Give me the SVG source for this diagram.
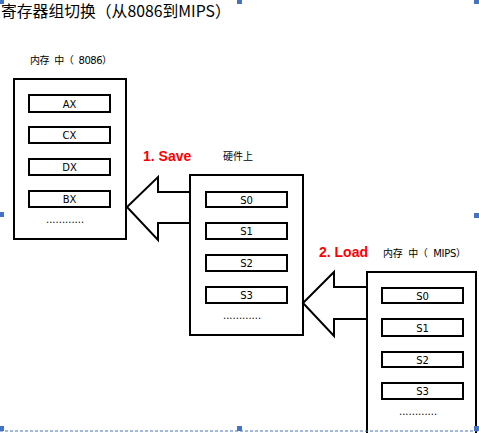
<svg xmlns="http://www.w3.org/2000/svg" width="479" height="433" viewBox="0 0 479 433">
<style>
.box{fill:#fff;stroke:#000;stroke-width:2}
.reg{fill:#fff;stroke:#000;stroke-width:2}
.rt{font-family:"DejaVu Sans","Noto Sans",sans-serif;font-size:10px;fill:#000;text-anchor:middle}
.lbl{font-family:"DejaVu Sans","Noto Sans CJK SC",sans-serif;font-size:10px;fill:#000;white-space:pre}
.red{font-family:"Liberation Sans",Arial,sans-serif;font-size:14px;font-weight:bold;fill:#ff0000}
.dots{font-family:"DejaVu Sans",sans-serif;font-size:10px;fill:#000}
.arrow{fill:#fff;stroke:#000;stroke-width:2;stroke-linejoin:miter}
.h{fill:#4472c4}
</style>
<rect width="479" height="433" fill="#fff"/>
<text x="1" y="17" font-family="'Noto Sans CJK SC',sans-serif" font-size="15.8" fill="#000">寄存器组切换（从8086到MIPS）</text>

<g id="mem8086">
<text class="lbl" x="30" y="64" textLength="82" lengthAdjust="spacing" xml:space="preserve">内存  中（  8086）</text>
<rect class="box" x="14" y="79" width="112" height="160"/>
<rect class="reg" x="29" y="95" width="81" height="17"/><text class="rt" x="69.5" y="107.5">AX</text>
<rect class="reg" x="29" y="127" width="81" height="16"/><text class="rt" x="69.5" y="139">CX</text>
<rect class="reg" x="29" y="159" width="81" height="16"/><text class="rt" x="69.5" y="171">DX</text>
<rect class="reg" x="29" y="191" width="81" height="16"/><text class="rt" x="69.5" y="203">BX</text>
<text class="dots" x="46" y="223">............</text>
</g>

<g id="hardware">
<text class="lbl" x="223" y="160">硬件上</text>
<rect class="box" x="190" y="175" width="113" height="160"/>
<rect class="reg" x="206" y="192" width="81" height="15"/><text class="rt" x="246.5" y="203.5">S0</text>
<rect class="reg" x="206" y="223" width="81" height="16"/><text class="rt" x="246.5" y="235">S1</text>
<rect class="reg" x="206" y="255" width="81" height="16"/><text class="rt" x="246.5" y="267">S2</text>
<rect class="reg" x="206" y="287" width="81" height="16"/><text class="rt" x="246.5" y="299">S3</text>
<text class="dots" x="223" y="319">............</text>
</g>

<g id="memMIPS">
<text class="lbl" x="383" y="257" textLength="83" lengthAdjust="spacing" xml:space="preserve">内存  中（  MIPS）</text>
<rect class="box" x="367" y="272" width="109" height="170"/>
<rect class="reg" x="382" y="288" width="81" height="15"/><text class="rt" x="422.5" y="299.5">S0</text>
<rect class="reg" x="382" y="319" width="81" height="17"/><text class="rt" x="422.5" y="331.5">S1</text>
<rect class="reg" x="382" y="352" width="81" height="15"/><text class="rt" x="422.5" y="363.5">S2</text>
<rect class="reg" x="382" y="383" width="81" height="16"/><text class="rt" x="422.5" y="395">S3</text>
<text class="dots" x="399" y="415">............</text>
</g>

<g id="connectors">
<polygon class="arrow" points="190,192 158,192 158,177 127,207 158,240 158,223 190,223"/>
<text class="red" x="143" y="161">1. Save</text>
<polygon class="arrow" points="367,287 334,287 334,272 303,303 334,336 334,319 367,319"/>
<text class="red" x="319" y="257">2. Load</text>
</g>

<g id="handles">
<line x1="0" y1="431" x2="479" y2="431" stroke="#4472c4" stroke-width="1" stroke-dasharray="3,2"/>
<rect class="h" x="0" y="0" width="4" height="4"/>
<rect class="h" x="237" y="0" width="5" height="4"/>
<rect class="h" x="474" y="0" width="5" height="4"/>
<rect class="h" x="0" y="212" width="4" height="5"/>
<rect class="h" x="474" y="213" width="5" height="5"/>
<rect class="h" x="0" y="426" width="4" height="5"/>
<rect class="h" x="237" y="426" width="5" height="5"/>
<rect class="h" x="474" y="426" width="5" height="5"/>
</g>
</svg>
